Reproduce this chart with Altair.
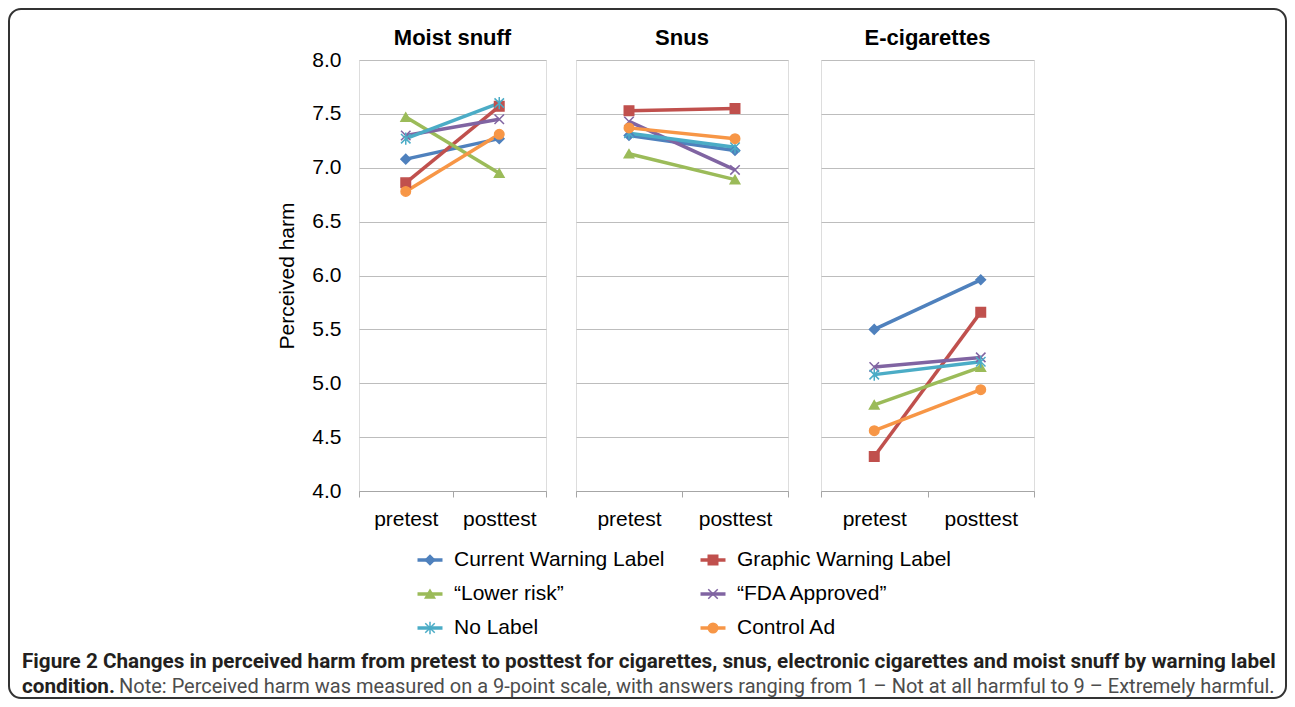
import altair as alt
import pandas as pd

# ---------------- data ----------------
products = ["Moist snuff", "Snus", "E-cigarettes"]
phases = ["pretest", "posttest"]
series = ["Current Warning Label", "Graphic Warning Label", "\u201cLower risk\u201d",
          "\u201cFDA Approved\u201d", "No Label", "Control Ad"]

moist_pre = [7.08, 6.86, 7.47, 7.30, 7.27, 6.78]
moist_post = [7.27, 7.57, 6.95, 7.45, 7.60, 7.31]
snus_pre = [7.30, 7.53, 7.13, 7.43, 7.32, 7.37]
snus_post = [7.16, 7.55, 6.89, 6.98, 7.19, 7.27]
ecig_pre = [5.50, 4.32, 4.80, 5.15, 5.08, 4.56]
ecig_post = [5.96, 5.66, 5.15, 5.24, 5.20, 4.94]

y_ticks = [4.0, 4.5, 5.0, 5.5, 6.0, 6.5, 7.0, 7.5, 8.0]

caption_bold = ("Figure 2 Changes in perceived harm from pretest to posttest for cigarettes, snus, "
                "electronic cigarettes and moist snuff by warning label")
caption_bold2 = "condition."
caption_note = ("Note: Perceived harm was measured on a 9-point scale, with answers ranging from "
                "1 \u2013 Not at all harmful to 9 \u2013 Extremely harmful.")

# ---------------- styles ----------------
colors = ["#4F81BD", "#C0504D", "#9BBB59", "#8064A2", "#4BACC6", "#F79646"]
shapes = ["diamond", "square", "triangle-up",
          "M-1,-1L1,1M-1,1L1,-1",
          "M-1,-1L1,1M-1,1L1,-1M0,-1.3L0,1.3",
          "circle"]
F = "Liberation Sans"
FS = 21
GRID = "#BDBDBD"

rows = []
for prod, pre, post in [(products[0], moist_pre, moist_post),
                        (products[1], snus_pre, snus_post),
                        (products[2], ecig_pre, ecig_post)]:
    for s, a, b in zip(series, pre, post):
        rows.append({"product": prod, "series": s, "phase": "pretest", "harm": a})
        rows.append({"product": prod, "series": s, "phase": "posttest", "harm": b})
df = pd.DataFrame(rows)

color_scale = alt.Scale(domain=series, range=colors)
shape_scale = alt.Scale(domain=series, range=shapes)


def panel(prod, width, first):
    d = df[df["product"] == prod]
    x = alt.X("phase:N", sort=phases,
              scale=alt.Scale(type="band", paddingInner=0, paddingOuter=0),
              axis=alt.Axis(title=None, labelAngle=0, labelFontSize=FS, labelFont=F,
                            labelColor="#000", labelPadding=11, domainColor="#A6A6A6",
                            tickColor="#A6A6A6", tickSize=6, tickBand="extent", grid=False))
    if first:
        yaxis = alt.Axis(title="Perceived harm", titleFontSize=FS, titleFontWeight="normal",
                         titleFont=F, titleColor="#000", titlePadding=14,
                         labelFontSize=FS, labelFont=F, labelColor="#000", values=y_ticks,
                         format=".1f", domain=False, ticks=False, tickSize=0,
                         labelPadding=18, gridColor=GRID)
    else:
        yaxis = alt.Axis(title=None, labels=False, values=y_ticks, domain=False,
                         ticks=False, tickSize=0, gridColor=GRID)
    y = alt.Y("harm:Q", scale=alt.Scale(domain=[4, 8], nice=False, zero=False), axis=yaxis)
    color = alt.Color("series:N", scale=color_scale, legend=None)
    base = alt.Chart(d)
    line = base.mark_line(strokeWidth=3.5).encode(x=x, y=y, color=color, detail="series:N")
    pts = base.mark_point(filled=True, size=90, strokeWidth=1.5, opacity=1).encode(
        x=x, y=y, color=color,
        stroke=alt.Stroke("series:N", scale=color_scale, legend=None),
        shape=alt.Shape("series:N", scale=shape_scale, legend=None))
    return alt.layer(line, pts).properties(
        width=width, height=431,
        title=alt.TitleParams(prod, fontSize=22, fontWeight="bold", font=F, color="#000",
                              offset=-1 if first else 10, frame="group"))


panels = alt.hconcat(
    alt.hconcat(panel(products[0], 187, True), panel(products[1], 212, False), spacing=28),
    panel(products[2], 213, False), spacing=31)

spacer = alt.Chart(pd.DataFrame({"t": [""]})).mark_text(baseline="top", fontSize=1).encode(
    text="t:N").properties(width=1, height=1, view=alt.ViewBackground(stroke="transparent"))

body = alt.vconcat(spacer, panels, spacing=15)

# ---------------- legend + caption inside the frame ----------------
leg = pd.DataFrame({"series": series,
                    "col": [i % 2 for i in range(len(series))],
                    "row": [i // 2 for i in range(len(series))]})
lx = alt.X("col:Q", scale=alt.Scale(domain=[0, 1], range=[421, 704]), axis=None)
ly = alt.Y("row:Q", scale=alt.Scale(domain=[0, 2], range=[551, 619]), axis=None)
lcolor = alt.Color("series:N", scale=color_scale, legend=None)
lbase = alt.Chart(leg)
leg_line = lbase.mark_point(shape="stroke", size=625, strokeWidth=3.5, filled=False,
                            opacity=1).encode(x=lx, y=ly, color=lcolor)
leg_pts = lbase.mark_point(filled=True, size=90, strokeWidth=1.5, opacity=1).encode(
    x=lx, y=ly, color=lcolor,
    stroke=alt.Stroke("series:N", scale=color_scale, legend=None),
    shape=alt.Shape("series:N", scale=shape_scale, legend=None))
leg_txt = lbase.mark_text(align="left", baseline="middle", dx=24, fontSize=FS, font=F,
                          color="#000").encode(x=lx, y=ly, text="series:N")

cap1 = alt.Chart(pd.DataFrame({"t": [caption_bold]})).mark_text(
    align="left", baseline="middle", font="Roboto", fontSize=20.7, fontWeight="bold",
    color="#231F20").encode(text="t:N", x=alt.value(13), y=alt.value(653))
cap2 = alt.Chart(pd.DataFrame({"t": [caption_bold2]})).mark_text(
    align="left", baseline="middle", font="Roboto", fontSize=20.7, fontWeight="bold",
    color="#231F20").encode(text="t:N", x=alt.value(13), y=alt.value(678))
cap3 = alt.Chart(pd.DataFrame({"t": [caption_note]})).mark_text(
    align="left", baseline="middle", font="Roboto", fontSize=20, fontWeight="normal",
    color="#4D4D4D").encode(text="t:N", x=alt.value(110), y=alt.value(678))

frame = alt.layer(leg_line, leg_pts, leg_txt, cap1, cap2, cap3).properties(
    width=1277, height=689,
    view=alt.ViewBackground(stroke="#333333", strokeWidth=2, cornerRadius=12, fill="white"))

chart = alt.concat(frame, body, columns=2, spacing=-1011, align="none").properties(
    padding=0
).configure_view(stroke="transparent").configure(background="white")

chart.save("out.html", embed_options={"renderer": "svg", "actions": False})
